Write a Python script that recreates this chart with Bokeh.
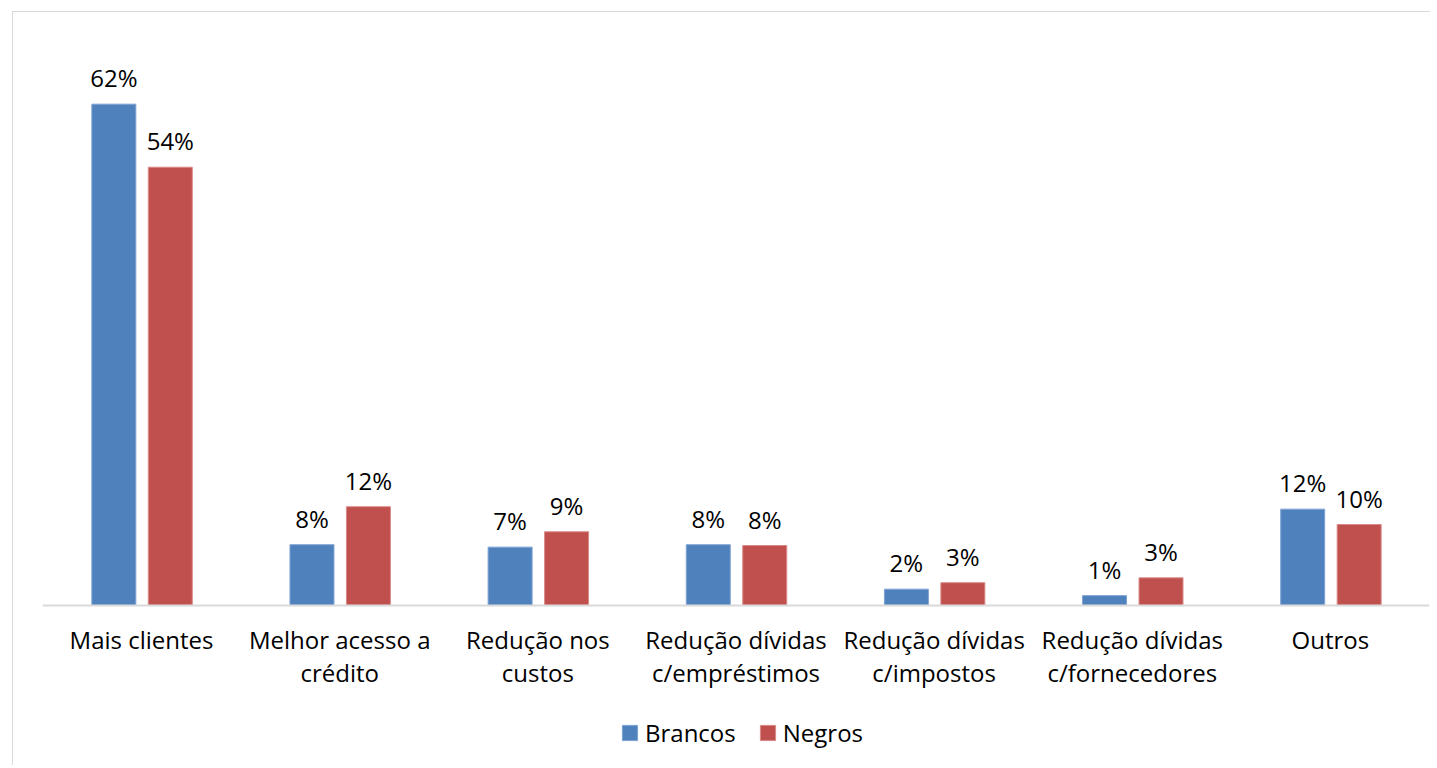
from bokeh.plotting import figure
from bokeh.models import ColumnDataSource, FactorRange, Legend, LegendItem
from bokeh.transform import dodge
from bokeh.core.properties import value
from bokeh.embed import file_html
from bokeh.resources import INLINE

categories = ["Mais clientes", "Melhor acesso a\ncrédito", "Redução nos\ncustos",
              "Redução dívidas\nc/empréstimos", "Redução dívidas\nc/impostos",
              "Redução dívidas\nc/fornecedores", "Outros"]
brancos = [62.0, 7.5, 7.2, 7.5, 2.0, 1.2, 11.9]
negros = [54.2, 12.2, 9.1, 7.4, 2.8, 3.4, 10.0]
brancos_labels = ["62%", "8%", "7%", "8%", "2%", "1%", "12%"]
negros_labels = ["54%", "12%", "9%", "8%", "3%", "3%", "10%"]

FONT = "Open Sans"
BLUE = "#4F81BD"
RED = "#C0504D"

src = ColumnDataSource(dict(cat=categories, b=brancos, n=negros,
                            bl=brancos_labels, nl=negros_labels))

p = figure(x_range=FactorRange(*categories), y_range=(-18.7, 70),
           frame_width=1387, frame_height=717, output_backend="svg", toolbar_location=None,
           min_border_left=29, min_border_right=1, min_border_top=27, min_border_bottom=9)
p.styles = {"border-left": "1px solid #d9d9d9", "border-top": "1px solid #d9d9d9"}
p.margin = (11, 0, 0, 12)
p.outline_line_color = None
p.xgrid.grid_line_color = None
p.ygrid.grid_line_color = None
p.yaxis.visible = False

rb = p.vbar(x=dodge("cat", -0.14, range=p.x_range), top="b", width=0.222, source=src,
            fill_color=BLUE, line_color="#7ea3d3", line_width=1)
rn = p.vbar(x=dodge("cat", 0.145, range=p.x_range), top="n", width=0.222, source=src,
            fill_color=RED, line_color="#d98a88", line_width=1)

for xo, col, lab in [(-0.14, "b", "bl"), (0.145, "n", "nl")]:
    p.text(x=dodge("cat", xo, range=p.x_range), y=col, text=lab, source=src,
           text_align="center", text_baseline="bottom", y_offset=-10,
           text_font=value(FONT), text_font_size="24px", text_color="#000000")

ax = p.xaxis[0]
ax.fixed_location = 0
ax.axis_line_color = "#d9d9d9"
ax.axis_line_width = 2
ax.major_tick_line_color = None
ax.minor_tick_line_color = None
ax.major_label_text_font = FONT
ax.major_label_text_font_size = "24px"
ax.major_label_text_color = "#000000"
ax.major_label_standoff = 12
ax.major_label_text_line_height = 1.0

legend = Legend(items=[LegendItem(label="Brancos", renderers=[rb]),
                       LegendItem(label="Negros", renderers=[rn])],
                orientation="horizontal", location=(578, 7),
                label_text_font=FONT, label_text_font_size="24px", label_text_color="#000000",
                glyph_width=19, glyph_height=19, spacing=22, label_standoff=6,
                border_line_color=None, background_fill_alpha=0, margin=0, padding=0)
p.add_layout(legend, "center")

open("out.html", "w").write(file_html(p, INLINE))
